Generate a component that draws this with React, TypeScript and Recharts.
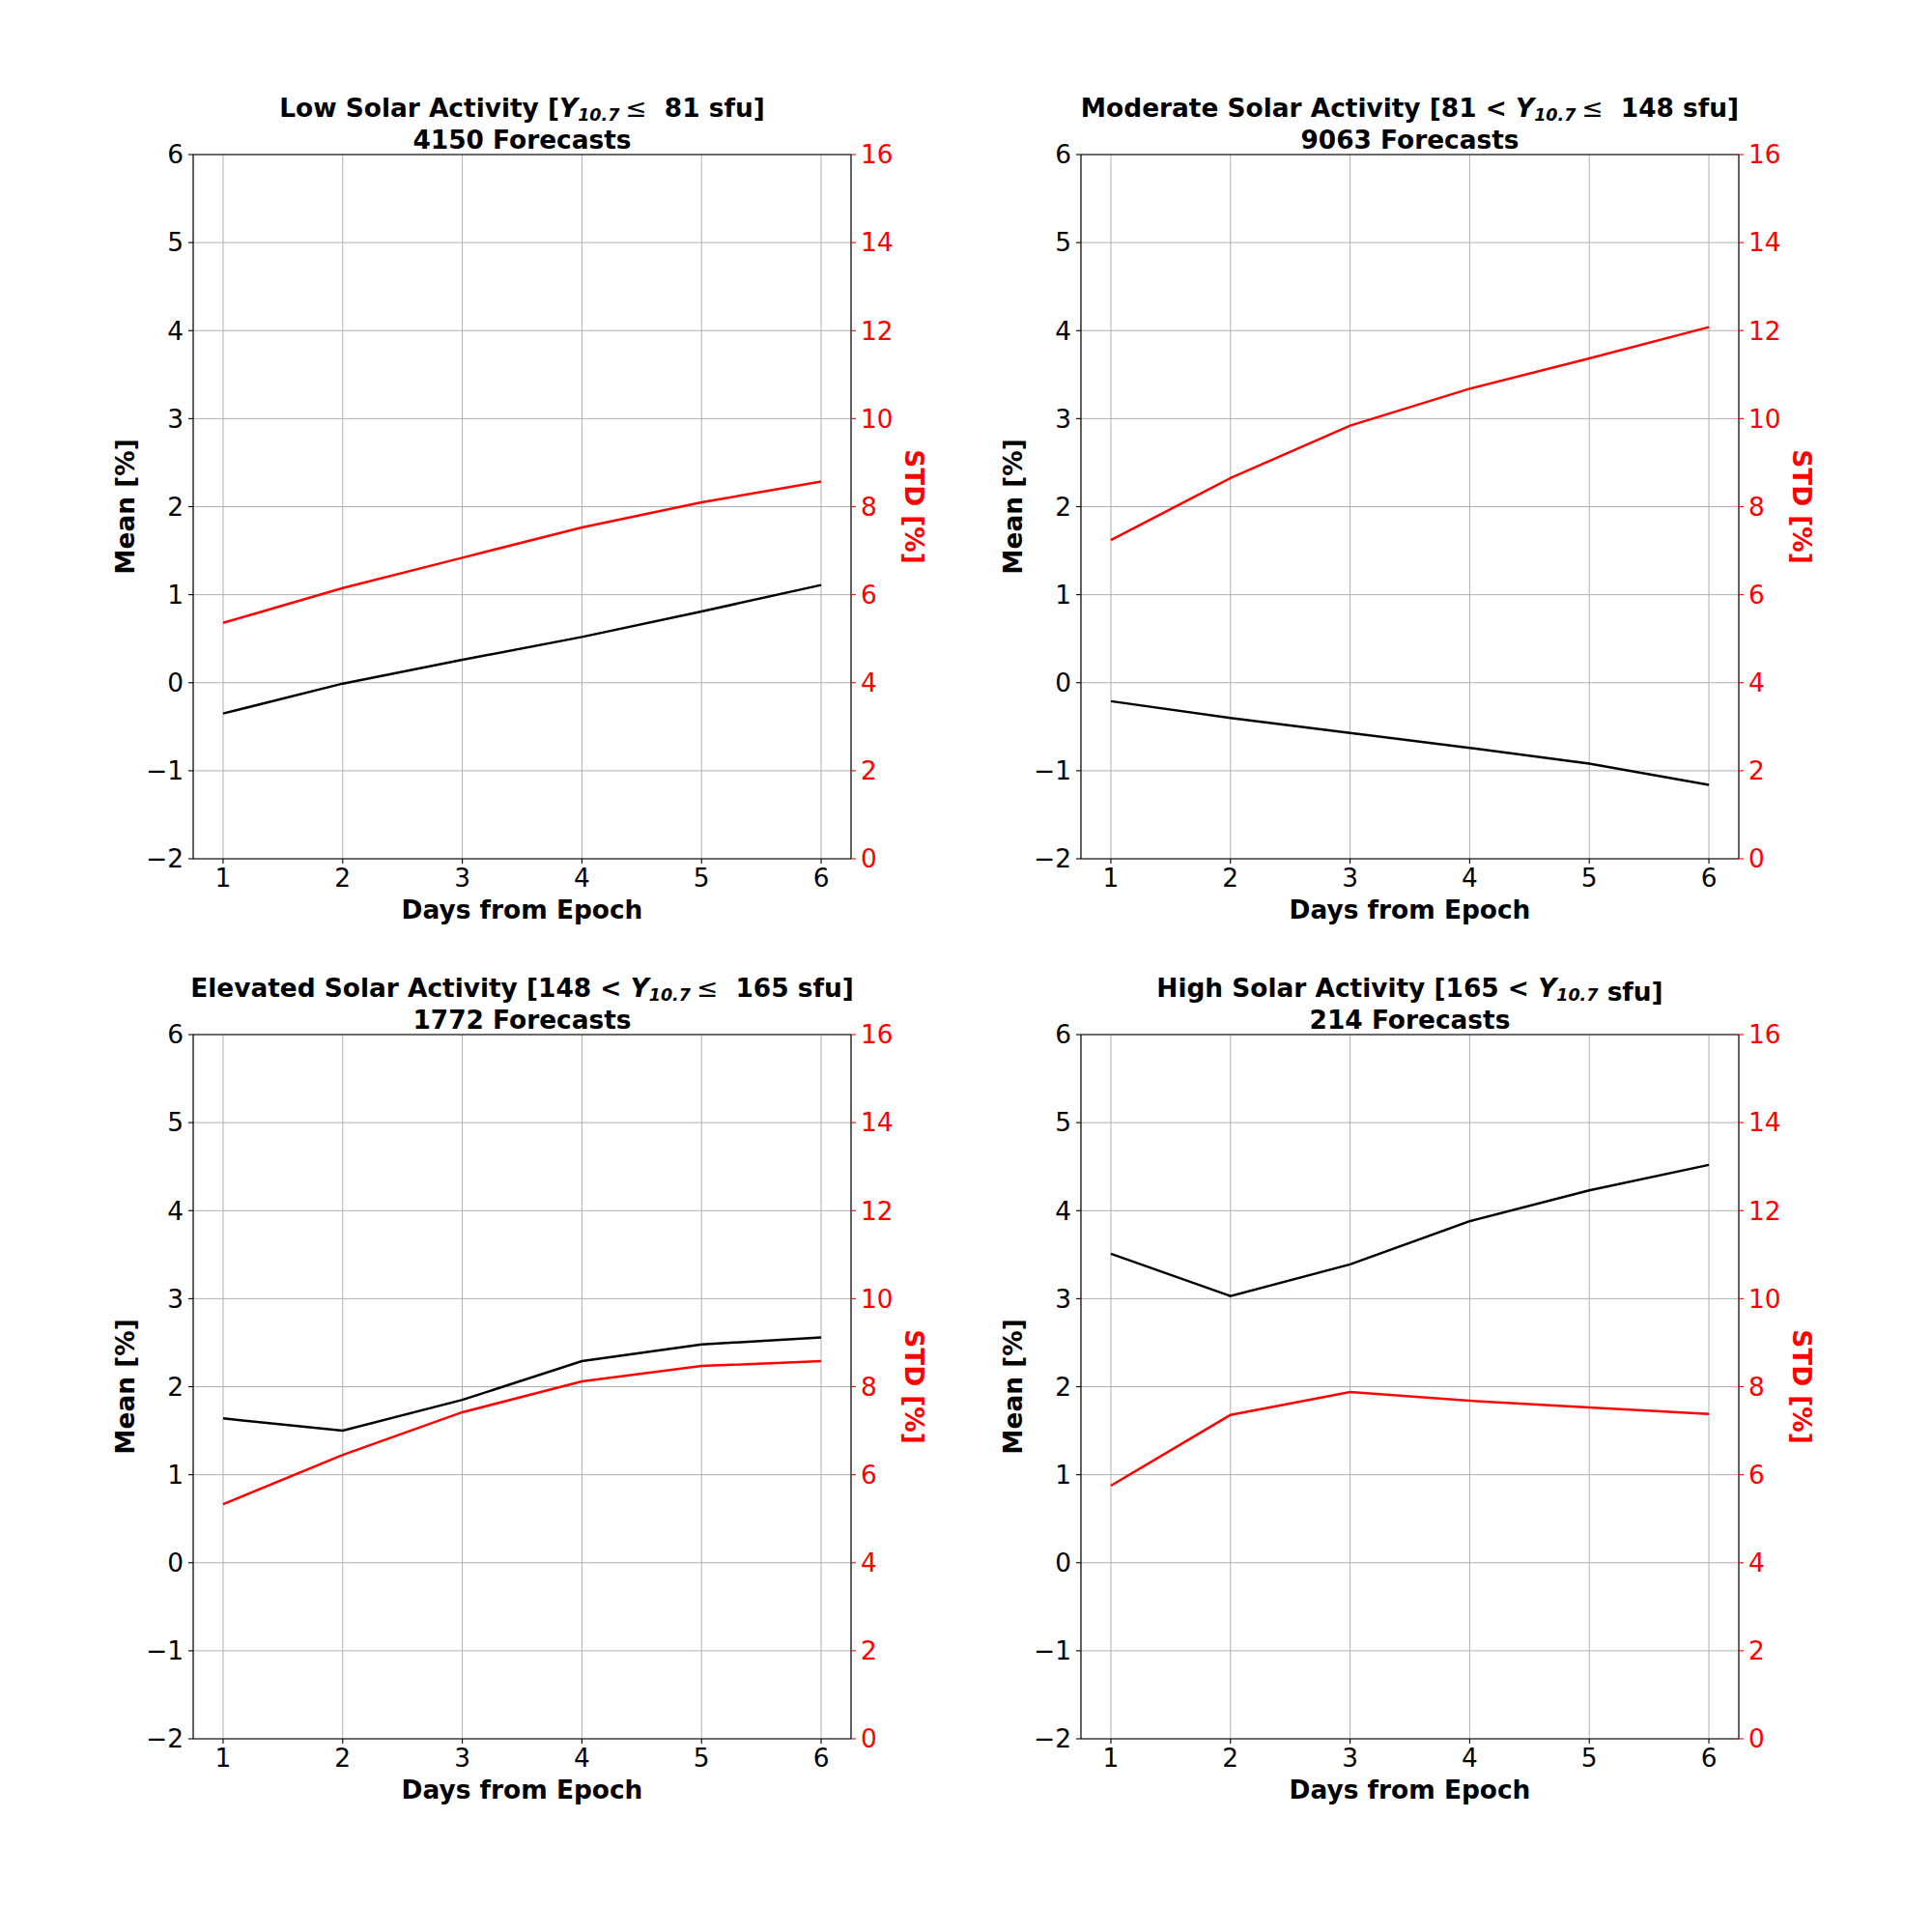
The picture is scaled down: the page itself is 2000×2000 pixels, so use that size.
import React from 'react';
import { LineChart, Line, XAxis, YAxis, CartesianGrid, ReferenceLine } from 'recharts';

const days = [1, 2, 3, 4, 5, 6];
const lowMean = [-0.35, -0.01, 0.26, 0.52, 0.81, 1.11];
const lowStd = [5.36, 6.15, 6.84, 7.53, 8.1, 8.57];
const modMean = [-0.21, -0.4, -0.57, -0.74, -0.92, -1.16];
const modStd = [7.24, 8.65, 9.84, 10.68, 11.37, 12.08];
const elevMean = [1.64, 1.5, 1.85, 2.29, 2.48, 2.56];
const elevStd = [5.33, 6.45, 7.42, 8.12, 8.47, 8.58];
const highMean = [3.51, 3.03, 3.39, 3.88, 4.23, 4.52];
const highStd = [5.75, 7.36, 7.88, 7.68, 7.53, 7.38];

const meanTicks = [-2, -1, 0, 1, 2, 3, 4, 5, 6];
const stdTicks = [0, 2, 4, 6, 8, 10, 12, 14, 16];
const xTicks = [1, 2, 3, 4, 5, 6];

const titlePrefix = ['Low Solar Activity [', 'Moderate Solar Activity [81 < ', 'Elevated Solar Activity [148 < ', 'High Solar Activity [165 < '];
const titleLeq = [true, true, true, false];
const titleSuffix = ['\u00a0 81 sfu]', '\u00a0 148 sfu]', '\u00a0 165 sfu]', ' sfu]'];
const forecasts = ['4150 Forecasts', '9063 Forecasts', '1772 Forecasts', '214 Forecasts'];
const meanSeries = [lowMean, modMean, elevMean, highMean];
const stdSeries = [lowStd, modStd, elevStd, highStd];

const OFFSETS = [
  [0, 0],
  [919, 0],
  [0, 911],
  [919, 911],
];
const CW = 1000;
const CH = 1000;
const PL = 200;
const PR = 881;
const PT = 160;
const PB = 889;
const YW = 90;
const XH = 60;
const FS = 26.4;
const SUB = 17.5;
const FONT = 'DejaVu Sans';

const fmt = (v: number) => String(v).replace('-', '\u2212');

function Panel({ idx }: { idx: number }) {
  const data = days.map((d, i) => ({ day: d, mean: meanSeries[idx][i], std: stdSeries[idx][i] }));
  const [ox, oy] = OFFSETS[idx];
  return (
    <div style={{ position: 'absolute', left: ox, top: oy, width: CW, height: CH }}>
      <LineChart
        width={CW}
        height={CH}
        data={data}
        margin={{ top: PT, right: CW - PR - YW, bottom: CH - PB - XH, left: PL - YW }}
        style={{ fontFamily: FONT }}
      >
        <CartesianGrid stroke="#b0b0b0" strokeWidth={1} yAxisId="left" />
        <XAxis
          dataKey="day"
          type="number"
          domain={[0.75, 6.25]}
          ticks={xTicks}
          height={XH}
          tickSize={5}
          tickMargin={5}
          tick={{ fill: '#000', fontSize: FS }}
          tickLine={{ stroke: '#000', strokeWidth: 1.1 }}
          axisLine={{ stroke: '#000', strokeWidth: 1.1 }}
          interval={0}
        />
        <YAxis
          yAxisId="left"
          type="number"
          domain={[-2, 6]}
          ticks={meanTicks}
          width={YW}
          tickSize={5}
          tickMargin={5}
          tickFormatter={fmt}
          tick={{ fill: '#000', fontSize: FS }}
          tickLine={{ stroke: '#000', strokeWidth: 1.1 }}
          axisLine={{ stroke: '#000', strokeWidth: 1.1 }}
          interval={0}
        />
        <YAxis
          yAxisId="right"
          orientation="right"
          type="number"
          domain={[0, 16]}
          ticks={stdTicks}
          width={YW}
          tickSize={5}
          tickMargin={5}
          tick={{ fill: '#ff0000', fontSize: FS }}
          tickLine={{ stroke: '#ff0000', strokeWidth: 1.1 }}
          axisLine={{ stroke: '#000', strokeWidth: 1.1 }}
          interval={0}
        />
        <ReferenceLine yAxisId="left" y={6} stroke="#000" strokeWidth={1.1} />
        <Line yAxisId="left" type="linear" dataKey="mean" stroke="#000" strokeWidth={2.5} dot={false} isAnimationActive={false} />
        <Line yAxisId="right" type="linear" dataKey="std" stroke="#ff0000" strokeWidth={2.5} dot={false} isAnimationActive={false} />
      </LineChart>
    </div>
  );
}

function Labels({ idx }: { idx: number }) {
  const [ox, oy] = OFFSETS[idx];
  const cx = ox + (PL + PR) / 2;
  const cy = oy + (PT + PB) / 2;
  return (
    <g fontFamily={FONT} fontWeight="bold" fontSize={FS}>
      <text x={cx} y={oy + PT - 39} textAnchor="middle" style={{ whiteSpace: 'pre' }}>
        <tspan>{titlePrefix[idx]}</tspan>
        <tspan fontStyle="italic">Y</tspan>
        <tspan fontStyle="italic" fontSize={SUB} dy={4}>10.7</tspan>
        {titleLeq[idx] ? (
          <tspan fontWeight="normal" dy={-4} dx={6}>{'\u2264'}</tspan>
        ) : (
          <tspan dy={-4}>{''}</tspan>
        )}
        <tspan>{titleSuffix[idx]}</tspan>
      </text>
      <text x={cx} y={oy + PT - 6} textAnchor="middle">{forecasts[idx]}</text>
      <text x={cx} y={oy + PB + 62} textAnchor="middle">Days from Epoch</text>
      <text x={ox + PL - 61} y={cy} textAnchor="middle" transform={`rotate(-90 ${ox + PL - 61} ${cy})`}>Mean [%]</text>
      <text x={ox + PR + 56} y={cy} textAnchor="middle" fill="#ff0000" transform={`rotate(90 ${ox + PR + 56} ${cy})`}>STD [%]</text>
    </g>
  );
}

export default function App() {
  return (
    <div style={{ position: 'absolute', left: 0, top: 0, width: 2000, height: 2000, background: '#fff' }}>
      {[0, 1, 2, 3].map((i) => (
        <Panel key={i} idx={i} />
      ))}
      <svg width={2000} height={2000} style={{ position: 'absolute', left: 0, top: 0, pointerEvents: 'none' }}>
        {[0, 1, 2, 3].map((i) => (
          <Labels key={i} idx={i} />
        ))}
      </svg>
    </div>
  );
}
